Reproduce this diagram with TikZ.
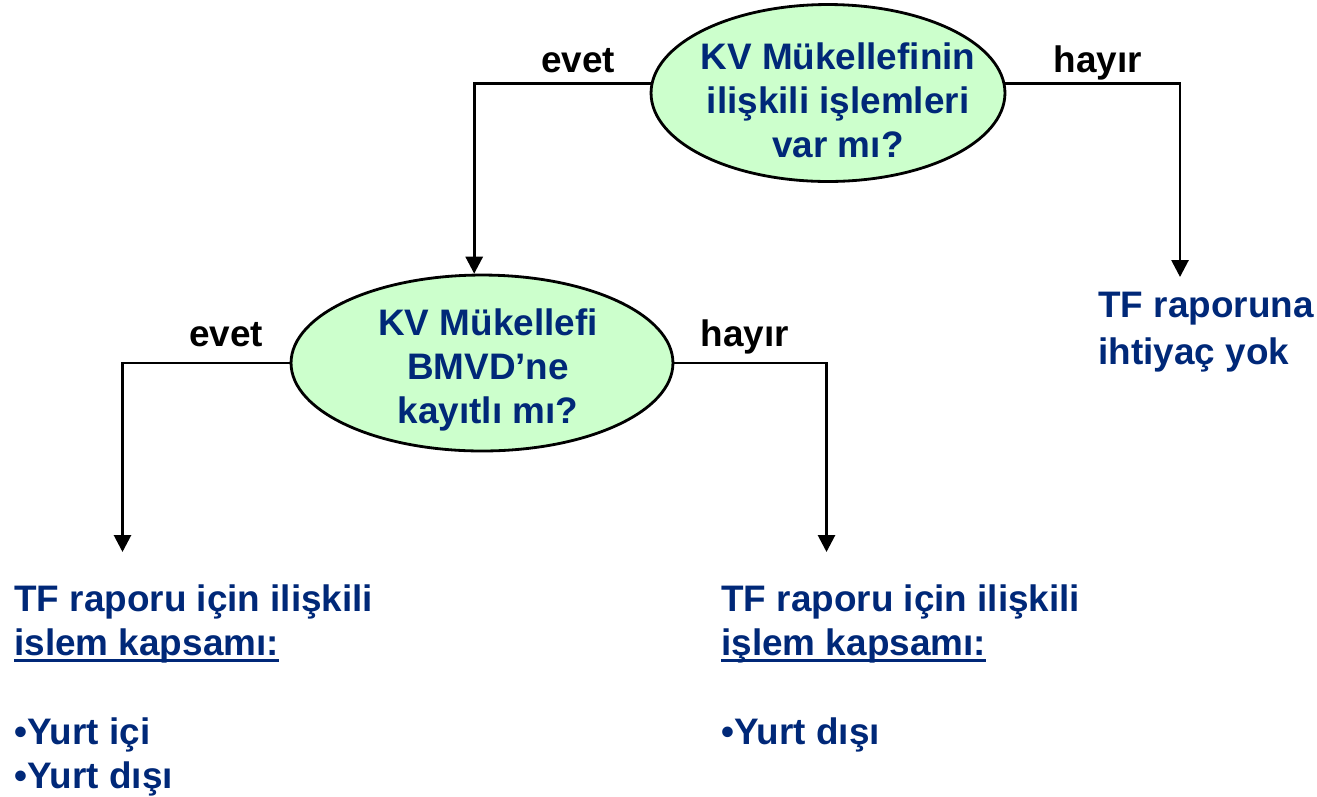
\documentclass[tikz,border=0pt]{standalone}
\usepackage{fontspec}
\setmainfont{Liberation Sans}
\usetikzlibrary{arrows.meta,positioning,shapes.geometric}
\definecolor{navy}{RGB}{0,40,120}
\definecolor{palegreen}{RGB}{204,255,204}
\newcommand{\ulined}[1]{\setbox0\hbox{#1}\rlap{\rule[-4pt]{\wd0}{1.5pt}}\box0}
\begin{document}
\begin{tikzpicture}[x=0.02cm, y=-0.02cm, line width=1.6pt, >={Triangle[length=0.34cm,width=0.34cm]},
question node/.style={ellipse,draw,fill=palegreen,inner sep=0pt,minimum width=7.08cm,minimum height=3.54cm},
question text/.style={text=navy,align=center},
answer/.style={anchor=base},
result/.style={anchor=north west,inner sep=0pt,text=navy,align=left}]
\useasboundingbox (0,0) rectangle (1317,796);
\begin{scope}[every node/.style={font=\fontsize{21}{25}\selectfont\bfseries}]
\node[question node,label={[question text,xshift=0.2cm,yshift=-0.14cm]center:{KV Mükellefinin\\ilişkili işlemleri\\var mı?}}] (q1) at (828,93) {};
\node[question node,minimum width=7.64cm,minimum height=3.52cm,label={[question text,xshift=0.12cm,yshift=-0.14cm]center:{KV Mükellefi\\BMVD’ne\\kayıtlı mı?}}] (q2) at (482,363) {};
\node[answer] (yes1) at (578,72) {evet};
\node[answer] (no1) at (1098,72) {hayır};
\node[answer] (yes2) at (226,346) {evet};
\node[answer] (no2) at (745,346) {hayır};
\node[result] (r1) at (1097,291) {TF raporuna\\[1.5pt]ihtiyaç yok};
\node[result] (r2) at (13,583) {TF raporu için ilişkili\\\ulined{islem kapsamı:}\\[26pt]•Yurt içi\\•Yurt dışı};
\node[result] (r3) at (720,583) {TF raporu için ilişkili\\\ulined{işlem kapsamı:}\\[26pt]•Yurt dışı};
\end{scope}
\coordinate (e1) at (1180,277);
\coordinate (e2) at (122.5,552);
\coordinate (e3) at (826.5,552);
\begin{scope}
\draw[->] (q1.177) -| (q2.95);
\draw[->] (q1.3) -| (e1);
\draw[->] (q2.west) -| (e2);
\draw[->] (q2.east) -| (e3);
\end{scope}
\end{tikzpicture}
\end{document}
